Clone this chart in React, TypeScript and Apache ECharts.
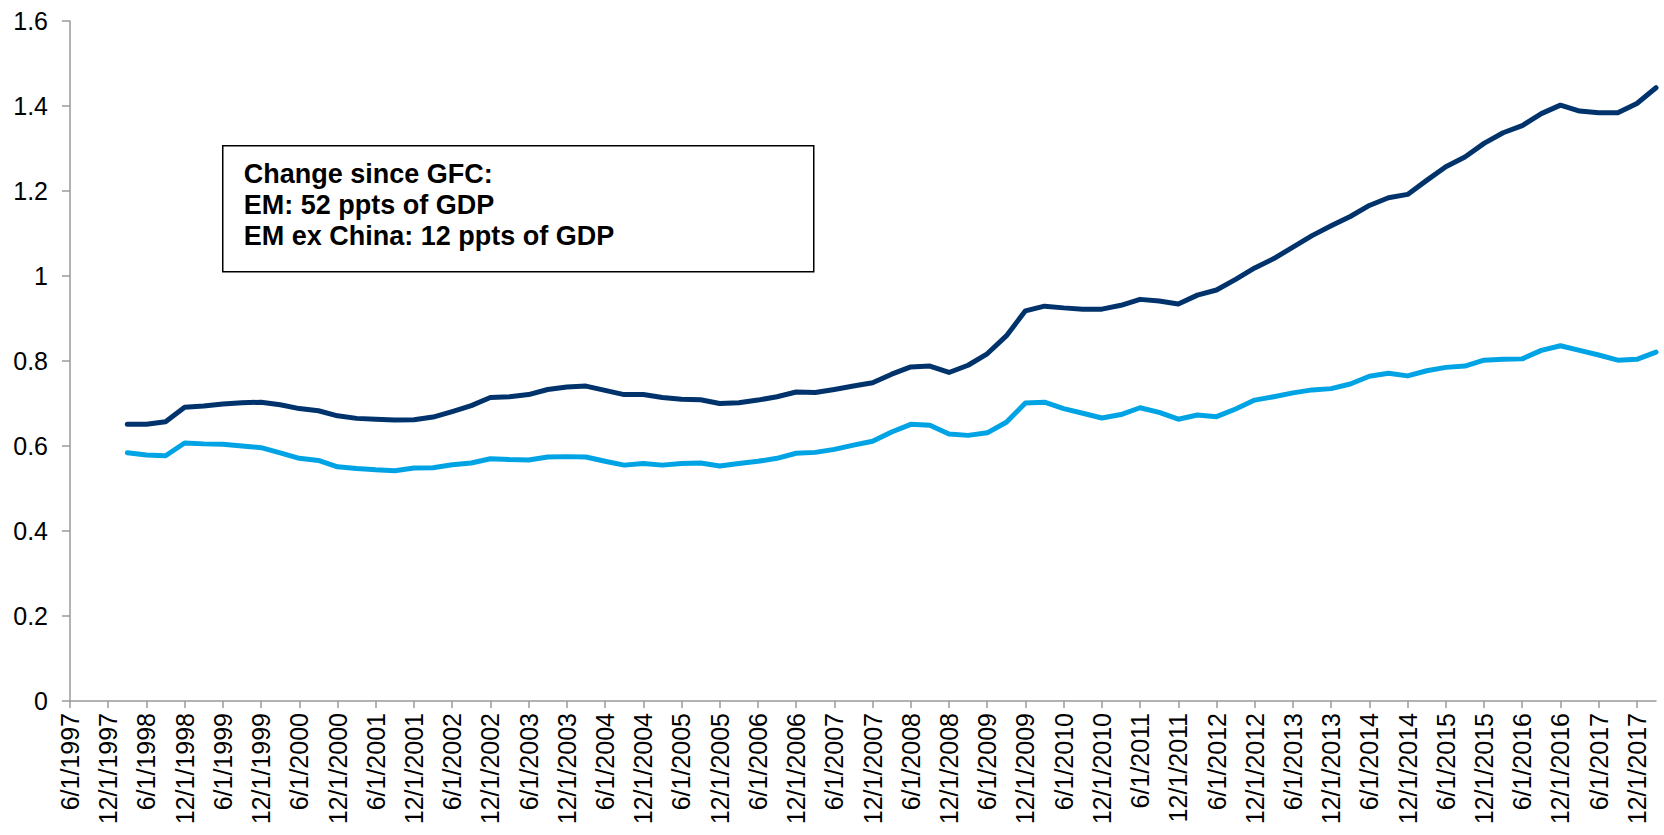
import React, { useEffect, useRef } from "react";
import * as echarts from "echarts";

// Quarterly category axis from 6/1/1997 to 3/1/2018
const startYear = 1997;
const quarterMonths = [3, 6, 9, 12];
const categories: string[] = [];
for (let y = startYear; y <= 2018; y++) {
  for (const m of quarterMonths) {
    if (y === 1997 && m < 6) continue;
    if (y === 2018 && m > 3) continue;
    categories.push(`${m}/1/${y}`);
  }
}

// EM total (dark), starts 3/1/1998
const emValues: number[] = [
  0.651, 0.651, 0.657, 0.691, 0.694, 0.699, 0.702, 0.703, 0.697, 0.688,
  0.683, 0.671, 0.665, 0.663, 0.661, 0.662, 0.668, 0.681, 0.695, 0.714,
  0.716, 0.721, 0.733, 0.739, 0.741, 0.731, 0.721, 0.721, 0.714, 0.710,
  0.709, 0.700, 0.702, 0.708, 0.716, 0.727, 0.726, 0.733, 0.741, 0.749,
  0.769, 0.786, 0.788, 0.773, 0.790, 0.817, 0.859, 0.918, 0.929, 0.925,
  0.922, 0.922, 0.931, 0.945, 0.941, 0.934, 0.955, 0.967, 0.992, 1.019,
  1.041, 1.068, 1.095, 1.118, 1.140, 1.166, 1.184, 1.192, 1.225, 1.257,
  1.280, 1.312, 1.337, 1.354, 1.382, 1.402, 1.388, 1.384, 1.384, 1.406,
  1.443,
];

// EM ex China (light)
const emExChinaValues: number[] = [
  0.584, 0.579, 0.577, 0.607, 0.605, 0.604, 0.600, 0.596, 0.584, 0.571,
  0.566, 0.551, 0.547, 0.544, 0.542, 0.548, 0.549, 0.556, 0.560, 0.570,
  0.568, 0.567, 0.574, 0.575, 0.574, 0.564, 0.555, 0.559, 0.555, 0.559,
  0.560, 0.553, 0.559, 0.564, 0.571, 0.583, 0.585, 0.592, 0.602, 0.611,
  0.633, 0.651, 0.649, 0.628, 0.625, 0.631, 0.656, 0.701, 0.703, 0.688,
  0.677, 0.666, 0.674, 0.690, 0.679, 0.663, 0.673, 0.669, 0.687, 0.708,
  0.716, 0.725, 0.732, 0.735, 0.746, 0.764, 0.771, 0.765, 0.777, 0.785,
  0.788, 0.802, 0.804, 0.805, 0.825, 0.836, 0.825, 0.814, 0.802, 0.804,
  0.821,
];

const leadingGap = categories.length - emValues.length; // quarters before data starts

const boxLines: string[] = [
  "Change since GFC:",
  "EM: 52 ppts of GDP",
  "EM ex China: 12 ppts of GDP",
];

export default function App() {
  const ref = useRef<HTMLDivElement>(null);
  useEffect(() => {
    if (!ref.current) return;
    const chart = echarts.init(ref.current, null, { renderer: "svg" });
    const pad = (arr: number[]) => [
      ...new Array(leadingGap).fill(null),
      ...arr,
    ];
    const axisColor = "#9a9a9a";
    const font = "Arial, 'Liberation Sans', sans-serif";
    chart.setOption({
      animation: false,
      backgroundColor: "#ffffff",
      grid: { left: 70, top: 21, right: 8, bottom: 134, containLabel: false },
      xAxis: {
        type: "category",
        data: categories,
        boundaryGap: false,
        axisLine: { lineStyle: { color: axisColor, width: 1.5 } },
        axisTick: {
          interval: 1,
          length: 7,
          lineStyle: { color: axisColor, width: 1.5 },
        },
        axisLabel: {
          interval: 1,
          rotate: 90,
          margin: 12,
          color: "#000",
          fontSize: 25,
          fontFamily: font,
        },
        splitLine: { show: false },
      },
      yAxis: {
        type: "value",
        min: 0,
        max: 1.6,
        interval: 0.2,
        axisLine: { show: true, lineStyle: { color: axisColor, width: 1.5 } },
        axisTick: { show: true, length: 8, lineStyle: { color: axisColor, width: 1.5 } },
        axisLabel: {
          margin: 22,
          color: "#000",
          fontSize: 25,
          fontFamily: font,
        },
        splitLine: { show: false },
      },
      series: [
        {
          name: "EM",
          type: "line",
          data: pad(emValues),
          showSymbol: false,
          symbol: "none",
          lineStyle: { color: "#00336b", width: 5, join: "round", cap: "round" },
          itemStyle: { color: "#00336b" },
          z: 3,
        },
        {
          name: "EM ex China",
          type: "line",
          data: pad(emExChinaValues),
          showSymbol: false,
          symbol: "none",
          lineStyle: { color: "#00a3e3", width: 5, join: "round", cap: "round" },
          itemStyle: { color: "#00a3e3" },
          z: 2,
        },
      ],
      graphic: [
        {
          type: "group",
          left: 222,
          top: 145,
          children: [
            {
              type: "rect",
              shape: { x: 0, y: 0, width: 591, height: 126 },
              style: { fill: "#ffffff", stroke: "#000000", lineWidth: 1.5 },
            },
            ...boxLines.map((t, i) => ({
              type: "text",
              x: 21,
              y: 28 + i * 31,
              style: {
                text: t,
                fill: "#000",
                font: `bold 27px ${font}`,
                verticalAlign: "middle",
                align: "left",
              },
            })),
          ],
        },
      ],
    });
    return () => chart.dispose();
  }, []);
  return (
    <div
      ref={ref}
      style={{ position: "fixed", left: 0, top: 0, width: 1664, height: 835, background: "#fff" }}
    />
  );
}
